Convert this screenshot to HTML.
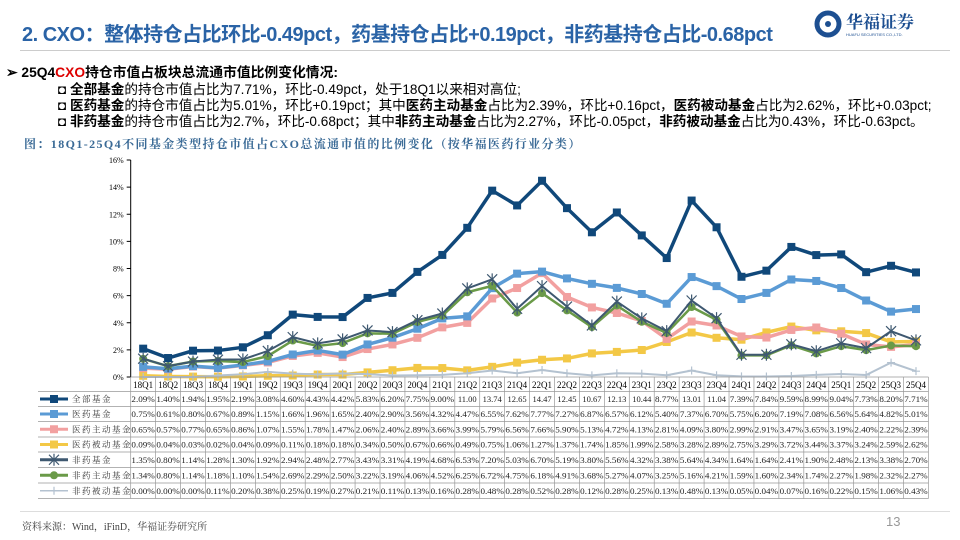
<!DOCTYPE html>
<html><head><meta charset="utf-8"><style>
body{margin:0;width:960px;height:540px;background:#fff;overflow:hidden;font-family:"Liberation Sans","Noto Sans CJK SC",sans-serif;position:relative}
.t{position:absolute;white-space:nowrap}
b{font-weight:bold}
</style></head><body>
<div class="t" style="left:22px;top:18px;font-size:20px;font-weight:bold;color:#2a63a6;letter-spacing:-0.5px">2. CXO：整体持仓占比环比-0.49pct，药基持仓占比+0.19pct，非药基持仓占比-0.68pct</div>
<div class="t" style="left:812px;top:10px;">
<svg width="130" height="28"><circle cx="16" cy="14" r="11" fill="none" stroke="#1d4f91" stroke-width="5"/><circle cx="16" cy="14" r="3" fill="#1d4f91"/><text x="34" y="18" font-size="17" font-weight="bold" fill="#1d4f91" font-family="Noto Serif CJK SC,serif">华福证券</text><text x="34" y="26" font-size="4" fill="#1d4f91">HUAFU SECURITIES CO.,LTD.</text></svg></div>
<div style="position:absolute;left:20px;top:50px;width:930px;height:1px;background:#ccc"></div>
<div class="t" style="left:6px;top:61px;font-size:13.8px;font-weight:bold">➢ 25Q4<span style="color:#d00">CXO</span>持仓市值占板块总流通市值比例变化情况:</div>
<div class="t" style="left:58px;top:78px;font-size:13.6px">◘ <b>全部基金</b>的持仓市值占比为7.71%，环比-0.49pct，处于18Q1以来相对高位;</div>
<div class="t" style="left:58px;top:94px;font-size:13.6px">◘ <b>医药基金</b>的持仓市值占比为5.01%，环比+0.19pct；其中<b>医药主动基金</b>占比为2.39%，环比+0.16pct，<b>医药被动基金</b>占比为2.62%，环比+0.03pct;</div>
<div class="t" style="left:58px;top:110px;font-size:13.6px">◘ <b>非药基金</b>的持仓市值占比为2.7%，环比-0.68pct；其中<b>非药主动基金</b>占比为2.27%，环比-0.05pct，<b>非药被动基金</b>占比为0.43%，环比-0.63pct。</div>
<div class="t" style="left:24px;top:135px;font-size:12px;letter-spacing:1.4px;color:#3a6a96;font-family:'Liberation Serif','Noto Serif CJK SC',serif;font-weight:bold">图：18Q1-25Q4不同基金类型持仓市值占CXO总流通市值的比例变化（按华福医药行业分类）</div>
<svg id="chart" width="960" height="540" style="position:absolute;left:0;top:0"></svg>
<div style="position:absolute;left:20px;top:511px;width:930px;height:1px;background:#ddd"></div>
<div class="t" style="left:22px;top:518px;font-size:10px;color:#444;font-family:'Liberation Serif','Noto Serif CJK SC',serif">资料来源：Wind，iFinD，华福证券研究所</div>
<div class="t" style="left:886px;top:514px;font-size:13px;color:#999">13</div>
<script>
const categories=["18Q1","18Q2","18Q3","18Q4","19Q1","19Q2","19Q3","19Q4","20Q1","20Q2","20Q3","20Q4","21Q1","21Q2","21Q3","21Q4","22Q1","22Q2","22Q3","22Q4","23Q1","23Q2","23Q3","23Q4","24Q1","24Q2","24Q3","24Q4","25Q1","25Q2","25Q3","25Q4"];
const seriesNames=["全部基金","医药基金","医药主动基金","医药被动基金","非药基金","非药主动基金","非药被动基金"];
const allFunds=[2.09,1.40,1.94,1.95,2.19,3.08,4.60,4.43,4.42,5.83,6.20,7.75,9.00,11.00,13.74,12.65,14.47,12.45,10.67,12.13,10.44,8.77,13.01,11.04,7.39,7.84,9.59,8.99,9.04,7.73,8.20,7.71];
const medFunds=[0.75,0.61,0.80,0.67,0.89,1.15,1.66,1.96,1.65,2.40,2.90,3.56,4.32,4.47,6.55,7.62,7.77,7.27,6.87,6.57,6.12,5.40,7.37,6.70,5.75,6.20,7.19,7.08,6.56,5.64,4.82,5.01];
const medActive=[0.65,0.57,0.77,0.65,0.86,1.07,1.55,1.78,1.47,2.06,2.40,2.89,3.66,3.99,5.79,6.56,7.66,5.90,5.13,4.72,4.13,2.81,4.09,3.80,2.99,2.91,3.47,3.65,3.19,2.40,2.22,2.39];
const medPassive=[0.09,0.04,0.03,0.02,0.04,0.09,0.11,0.18,0.18,0.34,0.50,0.67,0.66,0.49,0.75,1.06,1.27,1.37,1.74,1.85,1.99,2.58,3.28,2.89,2.75,3.29,3.72,3.44,3.37,3.24,2.59,2.62];
const nonMed=[1.35,0.80,1.14,1.28,1.30,1.92,2.94,2.48,2.77,3.43,3.31,4.19,4.68,6.53,7.20,5.03,6.70,5.19,3.80,5.56,4.32,3.38,5.64,4.34,1.64,1.64,2.41,1.90,2.48,2.13,3.38,2.70];
const nonActive=[1.34,0.80,1.14,1.18,1.10,1.54,2.69,2.29,2.50,3.22,3.19,4.06,4.52,6.25,6.72,4.75,6.18,4.91,3.68,5.27,4.07,3.25,5.16,4.21,1.59,1.60,2.34,1.74,2.27,1.98,2.32,2.27];
const nonPassive=[0.00,0.00,0.00,0.11,0.20,0.38,0.25,0.19,0.27,0.21,0.11,0.13,0.16,0.28,0.48,0.28,0.52,0.28,0.12,0.28,0.25,0.13,0.48,0.13,0.05,0.04,0.07,0.16,0.22,0.15,1.06,0.43];
const yTicks=[0,2,4,6,8,10,12,14,16];

const svg=document.getElementById('chart');const NS='http://www.w3.org/2000/svg';
function mk(t,a,p){const e=document.createElementNS(NS,t);for(const k in a)e.setAttribute(k,a[k]);(p||svg).appendChild(e);return e;}
const X0=130.7,CW=24.93,Y0=377,YTOP=160;
const xs=i=>X0+CW*(i+0.5);
const ys=v=>Y0-(v/16)*(Y0-YTOP);
let ax=mk('line',{x1:X0,y1:YTOP,x2:X0,y2:Y0,stroke:'#000','stroke-width':1});


yTicks.forEach(t=>{
 const tk=mk('line',{x1:X0-4,x2:X0,y1:ys(t),y2:ys(t),stroke:'#000'});
 
 
 const lb=mk('text',{x:X0-7,y:ys(t)+3,'text-anchor':'end','font-size':8,'font-family':'Liberation Serif,serif'});
 lb.textContent=t+'%';
 
 
});
const series=[
 {d:medPassive,c:'#f3c846',m:'sq',w:3.5},
 {d:nonPassive,c:'#b4c2d0',m:'plus',w:2},
 {d:medActive,c:'#f2a0a0',m:'sq',w:3.5},
 {d:medFunds,c:'#5b9bd5',m:'sq',w:3.5},
 {d:nonActive,c:'#6a9a48',m:'dot',w:2.5},
 {d:nonMed,c:'#3e5870',m:'star',w:2},
 {d:allFunds,c:'#10487a',m:'sq',w:3.5}];
const legendOrder=[allFunds,medFunds,medActive,medPassive,nonMed,nonActive,nonPassive];
function marker(m,x,y,c,g){
 if(m==='sq')mk('rect',{x:x-4,y:y-4,width:8,height:8,fill:c},g);
 else if(m==='dot')mk('circle',{cx:x,cy:y,r:4,fill:c},g);
 else if(m==='plus'){mk('path',{d:`M${x-4} ${y}H${x+4}M${x} ${y-4}V${y+4}`,stroke:c,'stroke-width':1.2},g);}
 else {mk('path',{d:`M${x-5} ${y-5}L${x+5} ${y+5}M${x+5} ${y-5}L${x-5} ${y+5}M${x} ${y-6}V${y+6}`,stroke:c,'stroke-width':1.2},g);}
}
series.forEach((s,si)=>{
 const g=mk('g',{});
 
 
 mk('polyline',{points:s.d.map((v,i)=>xs(i)+','+ys(v)).join(' '),fill:'none',stroke:s.c,'stroke-width':s.w,'stroke-linejoin':'round'},g);
 s.d.forEach((v,i)=>marker(s.m,xs(i),ys(v),s.c,g));
});
const rowY=[377,391.5,406.5,421.5,437,452,467.5,483,498.5];
const tg=mk('g',{});


const right=X0+CW*categories.length;
rowY.forEach((y,i)=>mk('line',{x1:i==0?X0:38,x2:right,y1:y,y2:y,stroke:'#999','stroke-width':0.7},tg));
for(let i=0;i<=categories.length;i++)mk('line',{x1:X0+CW*i,x2:X0+CW*i,y1:377,y2:498.5,stroke:'#999','stroke-width':0.7},tg);
categories.forEach((c,i)=>{const t=mk('text',{x:xs(i),y:388,'text-anchor':'middle','font-size':9,'font-family':'Liberation Serif,serif'},tg);t.textContent=c;});
const rowStyles=[['#10487a','sq'],['#5b9bd5','sq'],['#f2a0a0','sq'],['#f3c846','sq'],['#3e5870','star'],['#6a9a48','dot'],['#b4c2d0','plus']];
legendOrder.forEach((d,r)=>{
 const y=rowY[r+1],cy=(y+rowY[r+2])/2;
 const lg=mk('g',{},tg);
 
 
 mk('line',{x1:40,x2:68,y1:cy,y2:cy,stroke:rowStyles[r][0],'stroke-width':r==6?1.5:3},lg);
 marker(rowStyles[r][1],54,cy,rowStyles[r][0],lg);
 const lt=mk('text',{x:72,y:cy+3,'font-size':8.5,fill:'#333','font-family':'Noto Serif CJK SC,serif','letter-spacing':1.5},lg);lt.textContent=seriesNames[r];
 d.forEach((v,i)=>{
  const s=(r==0&&v>=10)?v.toFixed(2):v.toFixed(2)+'%';
  const t=mk('text',{x:xs(i),y:cy+3,'text-anchor':'middle','font-size':8.5,'font-family':'Liberation Serif,serif',fill:'#222'},tg);
  if(s.length>4&&s.indexOf('%')>0)t.setAttribute('textLength',CW-1.5);
  t.setAttribute('lengthAdjust','spacingAndGlyphs');
  t.textContent=s;
 });
});
</script>
</body></html>
